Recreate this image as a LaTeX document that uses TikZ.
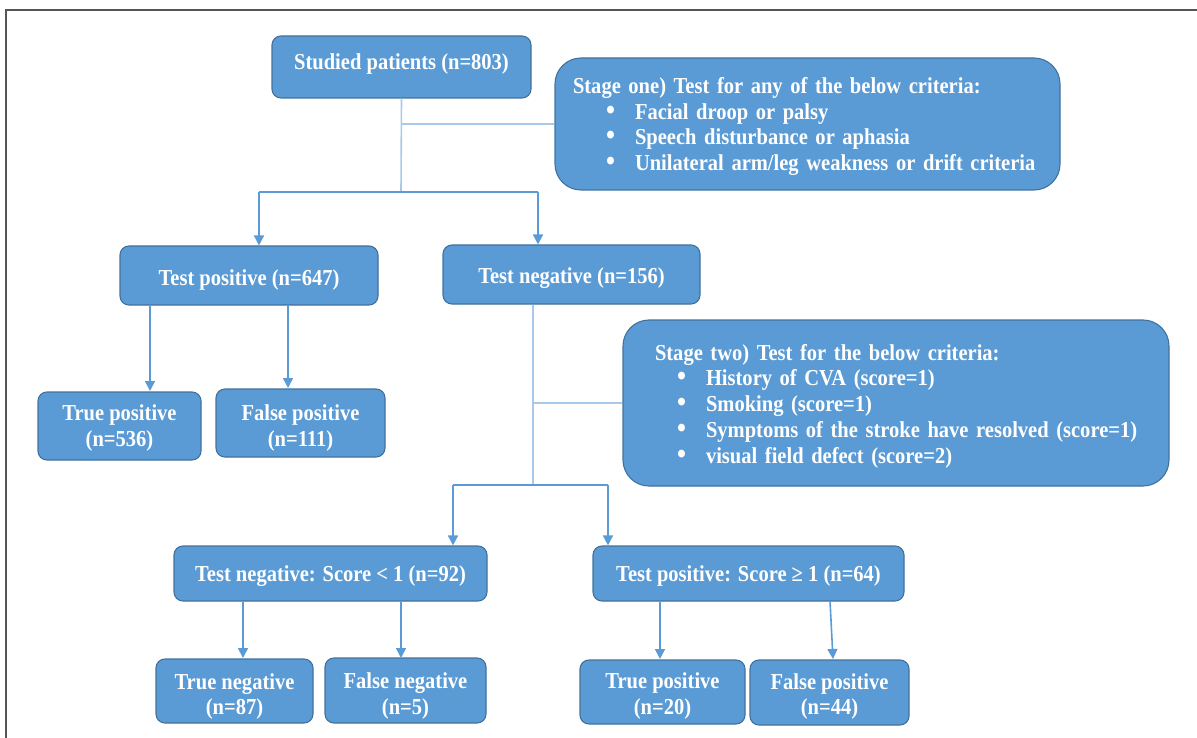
\documentclass[tikz,border=0pt]{standalone}
\usepackage{fontspec}
\setmainfont[FakeStretch=0.9]{Liberation Serif}
\usetikzlibrary{arrows.meta,calc}
\definecolor{boxblue}{HTML}{5B9BD5}
\definecolor{boxedge}{HTML}{41719C}
\definecolor{lightline}{HTML}{A8C9EA}
\definecolor{arrowblue}{HTML}{5B9BD5}
\definecolor{framegray}{HTML}{555555}
\tikzset{
  box/.style={draw=boxedge, fill=boxblue, line width=1.1pt, rounded corners=9pt,
    text=white, font=\fontsize{22.8}{25.7}\selectfont\bfseries, align=center, inner sep=0pt},
  stagebox/.style={box, rounded corners=26pt, align=left},
  arr/.style={draw=arrowblue, line width=1.6pt, -{Triangle[length=10pt,width=10pt]}},
  conn/.style={draw=arrowblue, line width=1.6pt},
  lite/.style={draw=lightline, line width=1.6pt},
}
\newcommand{\bul}[3]{\hspace*{#1}\makebox[#2][l]{\scalebox{1.25}{\textbullet}}#3}
\newcommand{\bt}[2][-3pt]{\raisebox{#1}[\height][\depth]{\begin{tabular}{@{}c@{}}#2\end{tabular}}}
\newcommand{\bl}[2][-3pt]{\raisebox{#1}[\height][\depth]{\begin{tabular}{@{}l@{}}#2\end{tabular}}}
\begin{document}
\begin{tikzpicture}[x=1pt,y=-1pt]
\useasboundingbox (0,0) rectangle (1197,738);
\draw[framegray, line width=1.2pt] (1197,10) -- (6,10) -- (6,738);

% top level
\node[box, minimum width=259pt, minimum height=62pt] (studied) at (401.5,67) {\bt[3pt]{Studied patients (n=803)}};
\node[stagebox, minimum width=505pt, minimum height=132pt, text width=469pt] (s1) at (807.5,124) {\bl[-3pt]{%
Stage one) Test for any of the below criteria:\\
\bul{33pt}{29pt}{Facial droop or palsy}\\
\bul{33pt}{29pt}{Speech disturbance or aphasia}\\
\bul{33pt}{29pt}{Unilateral arm/leg weakness or drift criteria}}};

\node[box, minimum width=258pt, minimum height=59pt] (tp) at (249,275.5) {\bt[-5pt]{Test positive (n=647)}};
\node[box, minimum width=257pt, minimum height=59pt] (tn) at (571.5,274.5) {\bt[-4pt]{Test negative (n=156)}};

\node[box, minimum width=163pt, minimum height=68pt] (tp1) at (119.5,426) {\bt[-2.5pt]{True positive\\(n=536)}};
\node[box, minimum width=169pt, minimum height=68pt] (fp1) at (300.5,423) {\bt[-5.5pt]{False positive\\(n=111)}};

\node[stagebox, minimum width=546pt, minimum height=166pt, text width=482pt] (s2) at (896,403) {\bl[-3.5pt]{%
Stage two) Test for the below criteria:\\
\bul{22pt}{29pt}{History of CVA (score=1)}\\
\bul{22pt}{29pt}{Smoking (score=1)}\\
\bul{22pt}{29pt}{Symptoms of the stroke have resolved (score=1)}\\
\bul{22pt}{29pt}{visual field defect (score=2)}}};

\node[box, minimum width=313pt, minimum height=55pt] (sneg) at (330.5,573.5) {\bt[-3pt]{Test negative: Score < 1 (n=92)}};
\node[box, minimum width=311pt, minimum height=55pt] (spos) at (748.5,573.5) {\bt[-3pt]{Test positive: Score ≥ 1 (n=64)}};

\node[box, minimum width=157pt, minimum height=64pt] (tn2) at (234.5,691) {\bt[-6pt]{True negative\\(n=87)}};
\node[box, minimum width=161pt, minimum height=65pt] (fn2) at (405.5,690.5) {\bt[-6pt]{False negative\\(n=5)}};
\node[box, minimum width=165pt, minimum height=64pt] (tp2) at (662.5,692) {\bt[-4.5pt]{True positive\\(n=20)}};
\node[box, minimum width=159pt, minimum height=65pt] (fp2) at (829.5,692.5) {\bt[-4.5pt]{False positive\\(n=44)}};

% junctions and arrow ends
\coordinate (j1) at (401,192);
\coordinate (j1l) at (259,192);
\coordinate (j1r) at (538,192);
\coordinate (j2) at (533,485);
\coordinate (j2l) at (453,485);
\coordinate (j2r) at (608,485);
\coordinate (a1) at (150,391);
\coordinate (a2) at (288,388);
\coordinate (b1) at (243,658);
\coordinate (b2) at (401,658);
\coordinate (b3) at (660,659);
\coordinate (b4) at (833,659);

% connectors
\draw[lite] (studied.south) -- (j1);
\draw[lite] (studied.south |- s1.west) -- (s1.west);
\draw[conn] (j1l) -- (j1r);
\draw[arr] (j1l) -- (j1l |- tp.north);
\draw[arr] (j1r) -- (j1r |- tn.north);

\draw[arr] (tp.south -| a1) -- (a1);
\draw[arr] (tp.south -| a2) -- (a2);

\draw[lite] (tn.south -| j2) -- (j2);
\draw[lite] (j2 |- s2.west) -- (s2.west);
\draw[conn] (j2l) -- (j2r);
\draw[arr] (j2l) -- (j2l |- sneg.north);
\draw[arr] (j2r) -- (j2r |- spos.north);

\draw[arr] (sneg.south -| b1) -- (b1);
\draw[arr] (sneg.south -| b2) -- (b2);
\draw[arr] (spos.south -| b3) -- (b3);
\draw[arr] (830,601) -- (b4);
\end{tikzpicture}
\end{document}
